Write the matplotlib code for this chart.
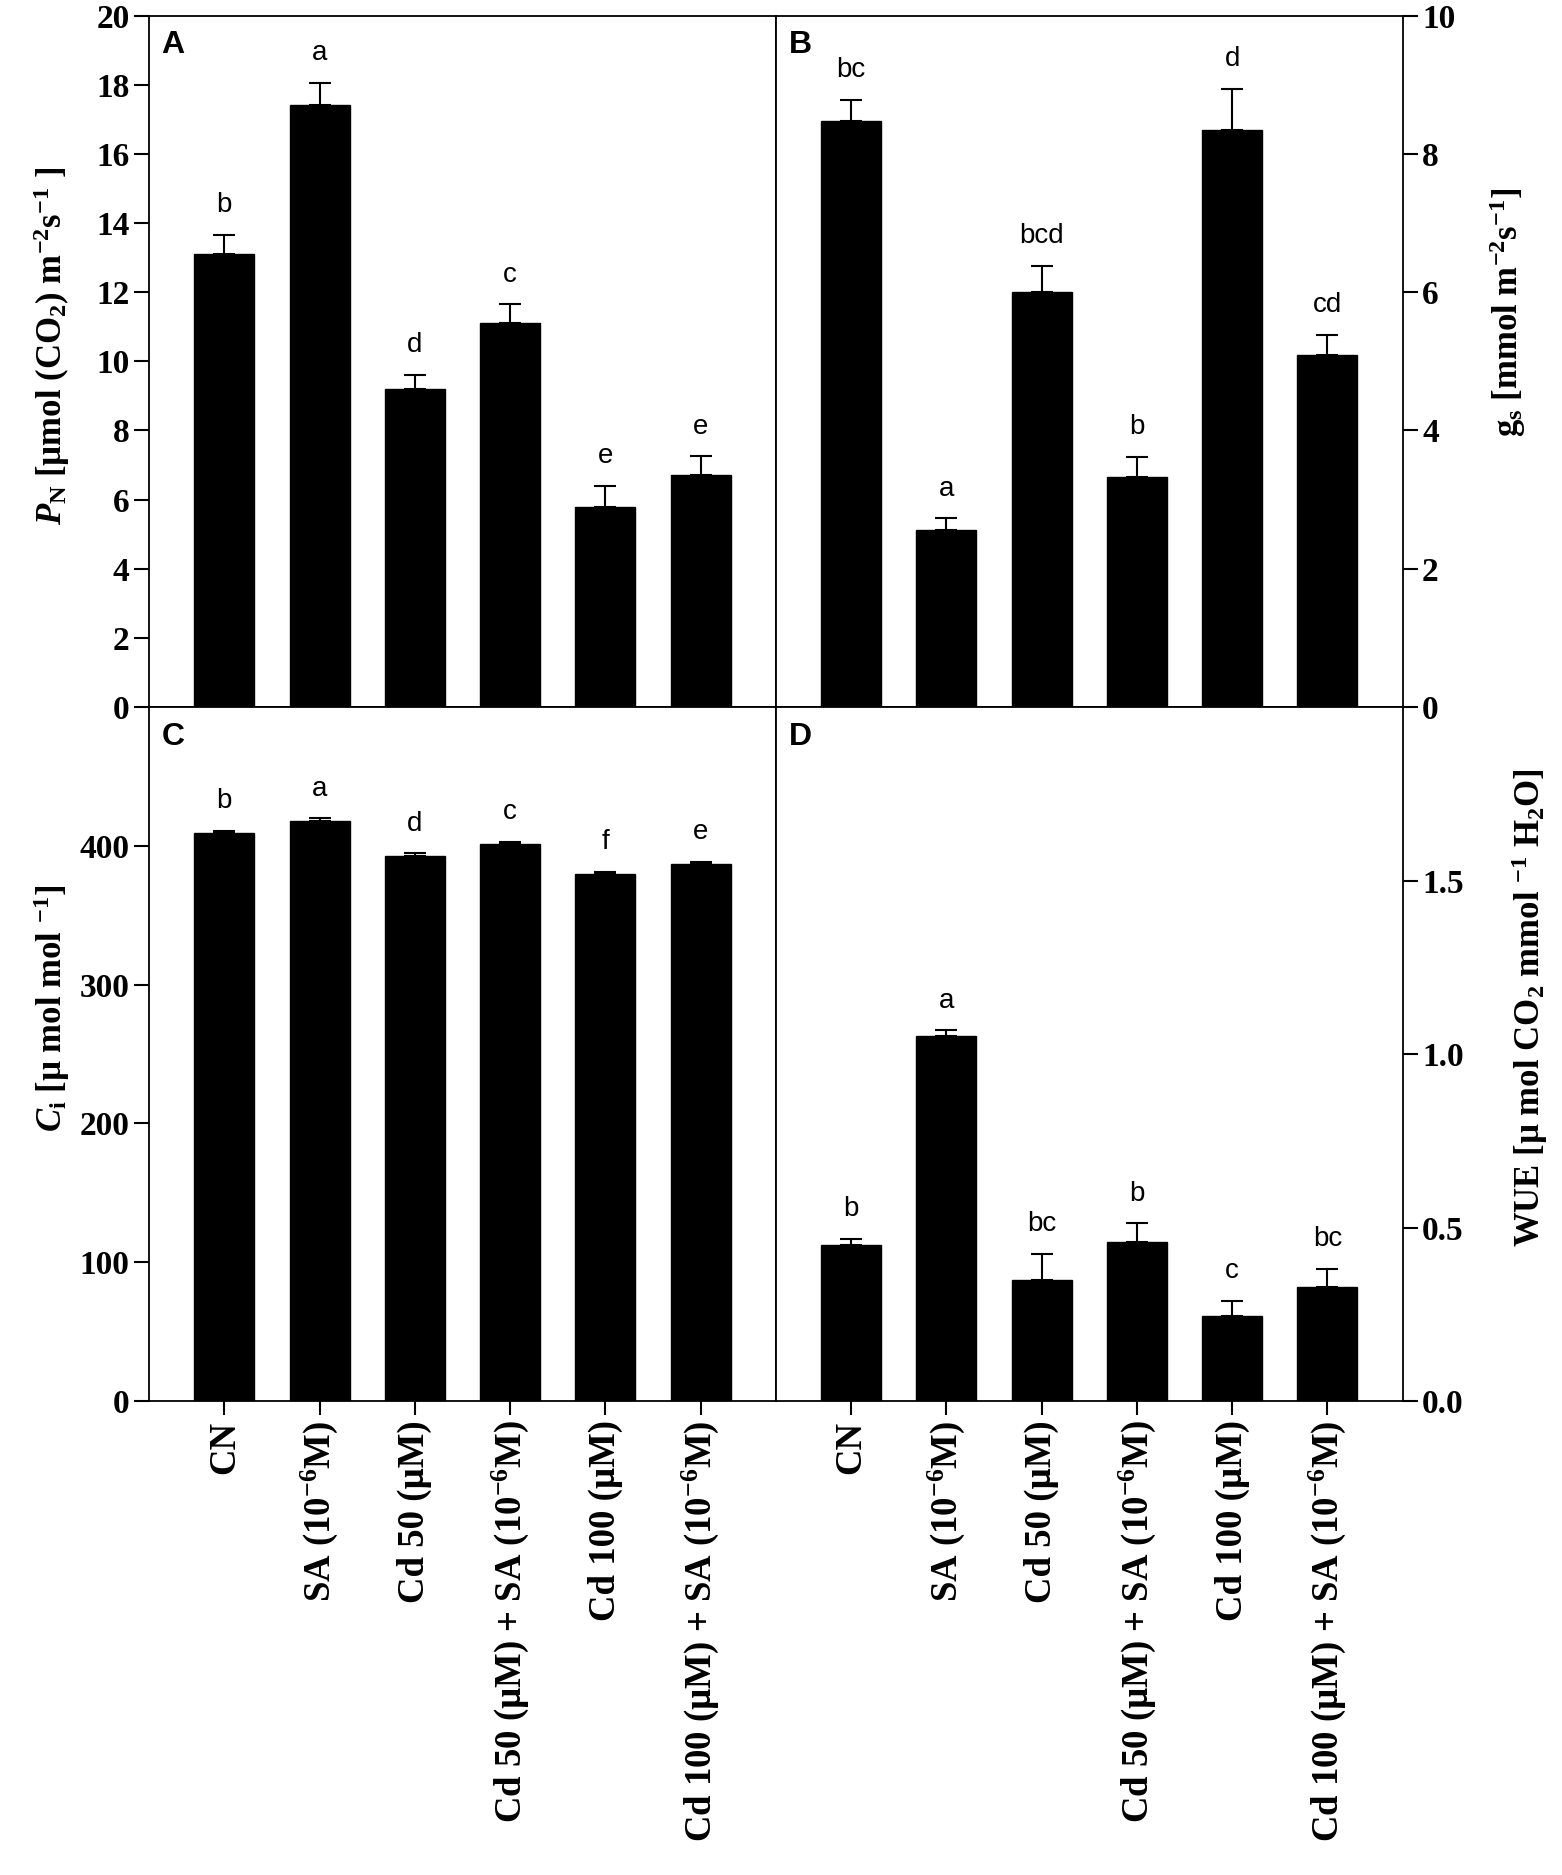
import matplotlib
matplotlib.use('Agg')
import matplotlib.pyplot as plt
import numpy as np

# treatments
groups = ['CN', 'SA (10$^{-6}$M)', 'Cd 50 (µM)', 'Cd 50 (µM) + SA (10$^{-6}$M)',
          'Cd 100 (µM)', 'Cd 100 (µM) + SA (10$^{-6}$M)']

# A: net photosynthesis
pn_mean = [13.1, 17.4, 9.2, 11.1, 5.8, 6.7]
pn_err = [0.55, 0.65, 0.4, 0.55, 0.6, 0.55]
pn_letters = ['b', 'a', 'd', 'c', 'e', 'e']

# B: stomatal conductance
gs_mean = [8.48, 2.56, 6.0, 3.33, 8.35, 5.09]
gs_err = [0.3, 0.17, 0.38, 0.29, 0.59, 0.29]
gs_letters = ['bc', 'a', 'bcd', 'b', 'd', 'cd']

# C: intercellular CO2
ci_mean = [409, 418, 393, 401.5, 380, 387]
ci_err = [1.5, 1.8, 1.5, 1.4, 1.2, 1.6]
ci_letters = ['b', 'a', 'd', 'c', 'f', 'e']

# D: water use efficiency
wue_mean = [0.451, 1.052, 0.350, 0.458, 0.245, 0.328]
wue_err = [0.015, 0.016, 0.074, 0.054, 0.044, 0.053]
wue_letters = ['b', 'a', 'bc', 'b', 'c', 'bc']

plt.rcParams['font.family'] = ['Liberation Serif', 'DejaVu Serif']
plt.rcParams['font.weight'] = 'bold'
plt.rcParams['mathtext.fontset'] = 'custom'
plt.rcParams['mathtext.rm'] = 'Liberation Serif:bold'
plt.rcParams['mathtext.it'] = 'Liberation Serif:italic:bold'
plt.rcParams['mathtext.bf'] = 'Liberation Serif:bold'
plt.rcParams['axes.linewidth'] = 1.3

fig = plt.figure(figsize=(15.62, 18.75), dpi=100)

L, M, R = 0.0954, 0.4968, 0.898
T, Y_MID, B = 0.9917, 0.6229, 0.2528
w = M - L
h_top = T - Y_MID
h_bot = Y_MID - B

axA = fig.add_axes([L, Y_MID, w, h_top])
axB = fig.add_axes([M, Y_MID, R - M, h_top])
axC = fig.add_axes([L, B, w, h_bot])
axD = fig.add_axes([M, B, R - M, h_bot])

x = np.arange(len(groups))


def draw_panel(ax, means, errs, letters, ymax, ticks, ticklabels, tag, side, bottom):
    ax.bar(x, means, width=0.63, color='black', edgecolor='black', zorder=2)
    ax.errorbar(x, means, yerr=[np.zeros(len(errs)), errs], fmt='none', ecolor='black',
                elinewidth=1.5, capsize=8, capthick=1.5, zorder=3)
    for xi, m, e, lt in zip(x, means, errs, letters):
        ax.text(xi, m + e + 0.043 * ymax, lt, ha='center', va='center',
                family='Liberation Sans', weight='normal', fontsize=20)
    ax.set_xlim(-0.79, 5.79)
    ax.set_ylim(0, ymax)
    ax.set_yticks(ticks)
    ax.set_yticklabels(ticklabels)
    ax.tick_params(axis='y', direction='out', length=11, width=1.5, labelsize=24, pad=3)
    if side == 'right':
        ax.yaxis.tick_right()
    if bottom:
        ax.set_xticks(x)
        ax.set_xticklabels(groups, rotation=90, fontsize=26.5)
        ax.tick_params(axis='x', direction='out', length=10, width=1.5, pad=4)
    else:
        ax.set_xticks([])
    ax.text(0.02, 0.957, tag, transform=ax.transAxes,
            ha='left', va='center', family='Liberation Sans', weight='bold', fontsize=23)


draw_panel(axA, pn_mean, pn_err, pn_letters, 20, np.arange(0, 21, 2),
           [str(v) for v in range(0, 21, 2)], 'A', 'left', False)
draw_panel(axB, gs_mean, gs_err, gs_letters, 10, np.arange(0, 11, 2),
           [str(v) for v in range(0, 11, 2)], 'B', 'right', False)
draw_panel(axC, ci_mean, ci_err, ci_letters, 500, np.arange(0, 401, 100),
           [str(v) for v in range(0, 401, 100)], 'C', 'left', True)
draw_panel(axD, wue_mean, wue_err, wue_letters, 2.0, [0, 0.5, 1.0, 1.5],
           ['0.0', '0.5', '1.0', '1.5'], 'D', 'right', True)

# y axis titles
fig.text(52 / 1562, 1 - 346 / 1875, r'$P_\mathrm{N}$ [µmol (CO$_2$) m$^{-2}$s$^{-1}$ ]',
         rotation=90, ha='center', va='center', fontsize=25)
fig.text(1508 / 1562, 1 - 312 / 1875, r'g$_\mathrm{s}$ [mmol m$^{-2}$s$^{-1}$]',
         rotation=90, ha='center', va='center', fontsize=25)
fig.text(52 / 1562, 1 - 1008 / 1875, r'$C_\mathrm{i}$ [µ mol mol $^{-1}$]',
         rotation=90, ha='center', va='center', fontsize=25)
fig.text(1530 / 1562, 1 - 1008 / 1875, r'WUE [µ mol CO$_2$ mmol $^{-1}$ H$_2$O]',
         rotation=90, ha='center', va='center', fontsize=25)

fig.savefig('out.png', dpi=100)
plt.close(fig)
